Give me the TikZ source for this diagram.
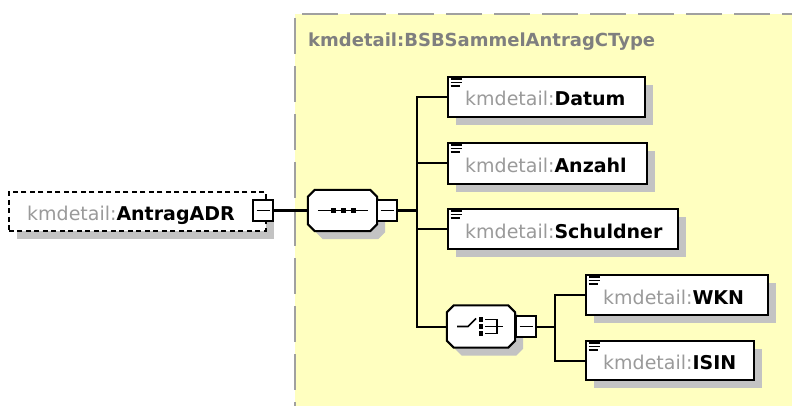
\documentclass[tikz,border=0pt]{standalone}
\usepackage{fontspec}
\setmainfont{DejaVu Sans}
\usetikzlibrary{shadows}
\definecolor{ybg}{HTML}{FFFFC0}
\definecolor{framegray}{HTML}{A0A0A0}
\definecolor{shd}{HTML}{C3C3C3}
\definecolor{nsgray}{HTML}{9A9A9A}
\definecolor{ttlgray}{HTML}{7F7F7F}
\begin{document}
\begin{tikzpicture}[x=1pt,y=-1pt,
  conn/.style={draw=black,line width=2pt},
  thinline/.style={draw=black,line width=1.6pt},
  elem/.style={draw=black,line width=2pt,fill=white,rectangle,inner sep=0pt,anchor=north west,
    drop shadow={shadow xshift=8pt,shadow yshift=-8pt,fill=shd,opacity=1}},
  ename/.style={anchor=base west,inner sep=0pt,font=\fontsize{19}{23}\selectfont},
  minusbox/.style={draw=black,line width=2pt,fill=white,rectangle,inner sep=0pt,
    minimum width=20pt,minimum height=21pt,
    path picture={\draw[line width=1.8pt] ([xshift=3.5pt]path picture bounding box.west) -- ([xshift=-3.5pt]path picture bounding box.east);}},
  octarea/.style={rectangle,draw=none,inner sep=0pt},
  octo/.style={draw=black,line width=2pt,fill=white},
  framedash/.style={draw=framegray,line width=2pt,dash pattern=on 36pt off 12pt}
]
\useasboundingbox (0,0) rectangle (792,406);
% type area
\fill[ybg] (295,14) rectangle (792,406);
\draw[framedash,dash phase=41pt] (295,14) -- (792,14);
\draw[framedash,dash phase=44pt] (295,14) -- (295,406);
\node[anchor=base west,inner sep=0pt,text=ttlgray,font=\fontsize{18}{22}\selectfont\bfseries] (ttl) at (308,47) {kmdetail:BSBSammelAntragCType};

% top element
\node[draw=black,line width=1.6pt,dash pattern=on 5pt off 3.5pt,fill=white,rectangle,inner sep=0pt,anchor=north west,
  minimum width=257pt,minimum height=39pt,
  drop shadow={shadow xshift=8pt,shadow yshift=-8pt,fill=shd,opacity=1}] (eADR) at (8,191) {};
\node[ename] (tADR) at ([shift={(19,9)}]eADR.west) {\textcolor{nsgray}{kmdetail:}\textbf{AntragADR}};
\node[minusbox] (mADR) at (263,210.5) {};

% compositor areas
\node[octarea,minimum width=69pt,minimum height=41pt] (seq) at (342.5,210.5) {};
\node[octarea,minimum width=68pt,minimum height=42pt] (ch) at (481,326.5) {};
\foreach \n in {seq,ch}{
  \fill[shd,transform canvas={xshift=8pt,yshift=-8pt}]
    ([xshift=7pt]\n.north west) -- ([xshift=-7pt]\n.north east) -- ([yshift=-7pt]\n.north east) --
    ([yshift=7pt]\n.south east) -- ([xshift=-7pt]\n.south east) -- ([xshift=7pt]\n.south west) --
    ([yshift=7pt]\n.south west) -- ([yshift=-7pt]\n.north west) -- cycle;
  \draw[octo]
    ([xshift=7pt]\n.north west) -- ([xshift=-7pt]\n.north east) -- ([yshift=-7pt]\n.north east) --
    ([yshift=7pt]\n.south east) -- ([xshift=-7pt]\n.south east) -- ([xshift=7pt]\n.south west) --
    ([yshift=7pt]\n.south west) -- ([yshift=-7pt]\n.north west) -- cycle;
}
% sequence icon
\draw[thinline] ([xshift=10pt]seq.west) -- ([xshift=-9pt]seq.east);
\foreach \dx in {-9.5,0.5,10.5}{
  \fill ([shift={(\dx-2.5,-2.5)}]seq.center) rectangle ++(5,5);
}
% choice icon
\draw[thinline] ([shift={(-24,0)}]ch.center) -- ([shift={(-13,0)}]ch.center) -- ([shift={(-5,-8)}]ch.center);
\foreach \dy in {-7,0,7}{
  \fill ([shift={(-2.25,\dy-2.25)}]ch.center) rectangle ++(4.5,4.5);
}
\draw[thinline] ([shift={(4,-7)}]ch.center) -- ([shift={(16,-7)}]ch.center) -- ([shift={(16,7)}]ch.center) -- ([shift={(4,7)}]ch.center);
\draw[thinline] ([shift={(4,0)}]ch.center) -- ([shift={(22,0)}]ch.center);

\node[minusbox] (mSeq) at (387,210.5) {};
\node[minusbox] (mCh) at (526,326.5) {};

% child elements
\node[elem,minimum width=197pt,minimum height=40pt] (eDatum) at (447,76) {};
\node[elem,minimum width=199pt,minimum height=41pt] (eAnzahl) at (447,142) {};
\node[elem,minimum width=230pt,minimum height=40pt] (eSchuldner) at (447,208) {};
\node[elem,minimum width=182pt,minimum height=40pt] (eWKN) at (585,274) {};
\node[elem,minimum width=168pt,minimum height=39pt] (eISIN) at (585,340) {};
\foreach \n in {eDatum,eAnzahl,eSchuldner,eWKN,eISIN}{
  \draw[line width=1.6pt] ([shift={(3.5,3)}]\n.north west) -- ++(11,0);
  \draw[line width=1.6pt] ([shift={(3.5,6.5)}]\n.north west) -- ++(11,0);
  \draw[line width=1.6pt] ([shift={(3.5,10)}]\n.north west) -- ++(9,0);
}
\node[ename] (tDatum) at ([shift={(18,9)}]eDatum.west) {\textcolor{nsgray}{kmdetail:}\textbf{Datum}};
\node[ename] (tAnzahl) at ([shift={(18,9)}]eAnzahl.west) {\textcolor{nsgray}{kmdetail:}\textbf{Anzahl}};
\node[ename] (tSchuldner) at ([shift={(18,9)}]eSchuldner.west) {\textcolor{nsgray}{kmdetail:}\textbf{Schuldner}};
\node[ename] (tWKN) at ([shift={(18,9)}]eWKN.west) {\textcolor{nsgray}{kmdetail:}\textbf{WKN}};
\node[ename] (tISIN) at ([shift={(18,9)}]eISIN.west) {\textcolor{nsgray}{kmdetail:}\textbf{ISIN}};

% connectors
\coordinate (j1) at (417,210.5);
\coordinate (j2) at (555,326.5);
\draw[conn] (mADR.east) -- (seq.west);
\draw[conn] (mSeq.east) -- (j1);
\draw[conn] (eDatum.west) -| (j1);
\draw[conn] (eAnzahl.west) -| (j1);
\draw[conn] (eSchuldner.west) -| (j1);
\draw[conn] (ch.west) -| (j1);
\draw[conn] (mCh.east) -- (j2);
\draw[conn] (eWKN.west) -| (j2);
\draw[conn] (eISIN.west) -| (j2);
\end{tikzpicture}
\end{document}
